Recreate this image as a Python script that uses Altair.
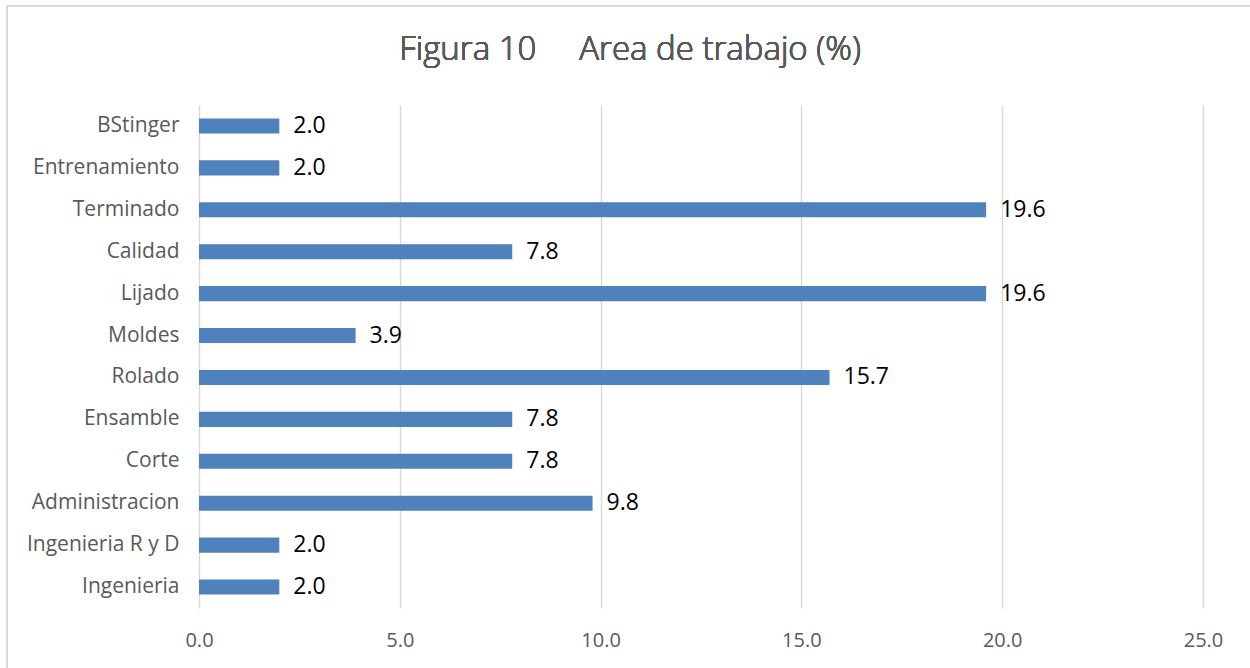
import altair as alt
import pandas as pd

categories = ["BStinger", "Entrenamiento", "Terminado", "Calidad", "Lijado", "Moldes",
              "Rolado", "Ensamble", "Corte", "Administracion", "Ingenieria R y D", "Ingenieria"]
values = [2.0, 2.0, 19.6, 7.8, 19.6, 3.9, 15.7, 7.8, 7.8, 9.8, 2.0, 2.0]
x_ticks = [0, 5, 10, 15, 20, 25]
title_text = "Figura 10\u00a0\u00a0\u00a0\u00a0\u00a0Area de trabajo (%)"

df = pd.DataFrame({"area": categories, "pct": values})

FONT = "Open Sans"
W, H = 1004, 503

y_enc = alt.Y("area:N", sort=categories, title=None,
              scale=alt.Scale(paddingInner=0.64, paddingOuter=0.32),
              axis=alt.Axis(domain=False, ticks=False, labelPadding=20, labelFontSize=21,
                            labelColor="#595959", labelFont=FONT, grid=False))
x_enc = alt.X("pct:Q", title=None,
              scale=alt.Scale(domain=[0, 25], nice=False),
              axis=alt.Axis(values=x_ticks, format=".1f", domain=False, ticks=False,
                            grid=True, gridColor="#d9d9d9", gridWidth=1.5,
                            labelFlush=False, labelOverlap=False,
                            labelPadding=22, labelFontSize=20, labelColor="#595959",
                            labelFont=FONT))

bars = alt.Chart(df).mark_bar(color="#4f81bd").encode(x=x_enc, y=y_enc)
labels = alt.Chart(df).mark_text(align="left", baseline="middle", dx=14, fontSize=23,
                                 font=FONT, color="#000000").encode(
    x="pct:Q", y=alt.Y("area:N", sort=categories), text=alt.Text("pct:Q", format=".1f"))

border = alt.Chart(df).mark_rect(fill=None, stroke="#d9d9d9", strokeWidth=1.2).encode(
    x=alt.value(-192), x2=alt.value(1070), y=alt.value(-99), y2=alt.value(580))

title = alt.Chart(df).mark_text(align="center", baseline="middle", fontSize=33, font=FONT,
                                fontWeight=300, color="#595959").encode(
    x=alt.value(431), y=alt.value(-55), text=alt.value(title_text))

chart = alt.layer(border, bars, labels, title).properties(
    width=W, height=H,
    autosize=alt.AutoSizeParams(type="none"),
    padding={"left": 199, "top": 105, "right": 47, "bottom": 60},
).configure(background="white").configure_view(stroke=None, strokeWidth=0)

chart.save("out.html", embed_options={"renderer": "svg", "actions": False})
